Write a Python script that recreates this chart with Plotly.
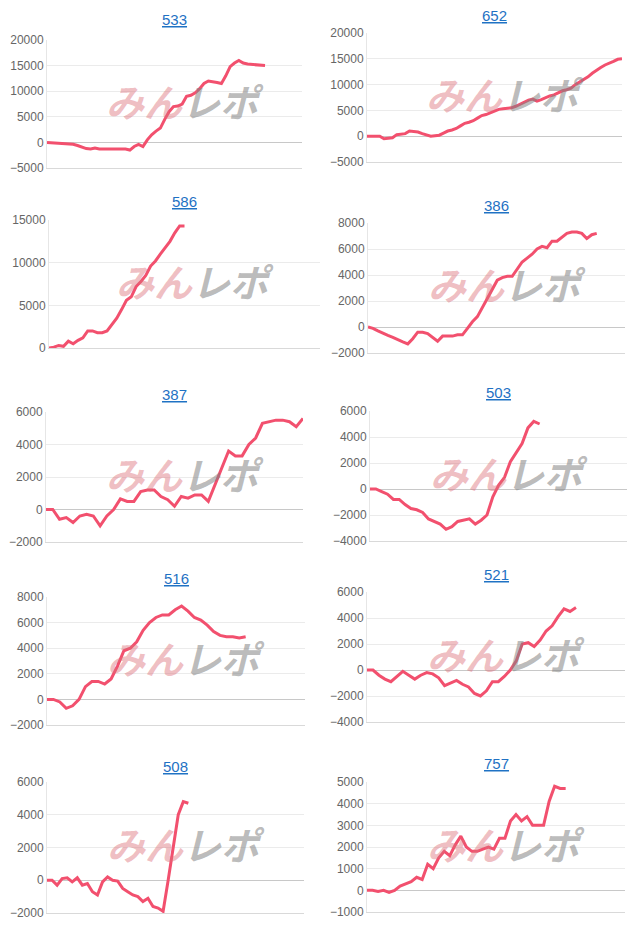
import plotly.graph_objects as go

W, H = 640, 931
OFF = 8  # page body margin shifts the figure

# machine numbers and value series
titles = ["533", "652", "586", "386", "387", "503", "516", "521", "508", "757"]

v533 = [0, -50, -150, -250, -300, -300, -350, -600, -900, -1200, -1300, -1100, -1300, -1300, -1300,
        -1300, -1300, -1300, -1300, -1500, -800, -400, -800, 500, 1500, 2200, 2800, 4500, 6000, 7000,
        7100, 7500, 9000, 9200, 9700, 10500, 11500, 12000, 11900, 11700, 11500, 13000, 14800, 15500,
        16000, 15500, 15300, 15200, 15200, 15100, 15000]
v652 = [0, 0, 0, 0, -500, -400, -300, 300, 400, 500, 1000, 900, 800, 500, 200, 0, 100, 200, 600, 1000,
        1200, 1500, 2000, 2500, 2700, 3000, 3500, 4000, 4200, 4500, 4800, 5200, 5300, 5400, 5500, 5800,
        6200, 6600, 7000, 7200, 6800, 7100, 7500, 7800, 8000, 8400, 8800, 9000, 9300, 10000, 10500,
        11000, 11500, 12200, 12800, 13300, 13800, 14100, 14500, 14900, 15000]
v586 = [0, 100, 300, 200, 800, 500, 900, 1200, 2000, 2000, 1800, 1800, 2000, 2800, 3500, 4500, 5600,
        6000, 7200, 7800, 8500, 9600, 10200, 11000, 11800, 12500, 13500, 14300, 14300]
v386 = [0, -100, -300, -500, -650, -800, -1000, -1150, -1300, -900, -400, -400, -500, -800, -1100,
        -700, -700, -700, -600, -600, -100, 400, 800, 1500, 2300, 3000, 3600, 3800, 3900, 3900, 4500,
        5000, 5300, 5600, 6000, 6200, 6100, 6600, 6600, 6900, 7200, 7300, 7300, 7200, 6800, 7100, 7200]
v387 = [0, 0, -600, -500, -800, -400, -300, -400, -1000, -400, 0, 650, 500, 500, 1100, 1200, 1200,
        800, 600, 200, 800, 700, 900, 900, 500, 1500, 2600, 3600, 3300, 3300, 4000, 4400, 5300, 5400,
        5500, 5500, 5400, 5100, 5600]
v503 = [0, 0, -200, -400, -800, -800, -1200, -1500, -1600, -1800, -2300, -2500, -2700, -3100, -2900,
        -2500, -2400, -2300, -2700, -2400, -2000, -600, 300, 900, 2100, 2800, 3500, 4700, 5200, 5000]
v516 = [0, 0, -200, -700, -500, 0, 1000, 1400, 1400, 1200, 1600, 2600, 3800, 4000, 4500, 5400, 6000,
        6400, 6600, 6600, 7000, 7300, 6900, 6400, 6200, 5800, 5300, 5000, 4900, 4900, 4800, 4900]
v521 = [0, 0, -400, -700, -900, -500, -100, -400, -700, -400, -200, -300, -600, -1200, -1000, -800,
        -1100, -1300, -1800, -2000, -1600, -900, -900, -500, 0, 700, 2000, 2100, 1800, 2300, 3000,
        3400, 4100, 4700, 4500, 4800]
v508 = [0, 0, -300, 100, 150, -100, 150, -300, -200, -700, -900, -100, 200, 0, -50, -500, -700, -900,
        -1000, -1300, -1100, -1600, -1700, -1900, 0, 2000, 4000, 4800, 4700]
v757 = [0, 0, -50, 0, -100, 0, 200, 300, 400, 600, 500, 1200, 1000, 1500, 1800, 1600, 2100, 2500,
        2000, 1800, 1800, 1900, 2000, 1900, 2400, 2400, 3200, 3500, 3200, 3400, 3000, 3000, 3000, 4100,
        4800, 4700, 4700]
series = [v533, v652, v586, v386, v387, v503, v516, v521, v508, v757]

y_ranges = [(-5000, 20000), (-5000, 20000), (0, 15000), (-2000, 8000), (-2000, 6000),
            (-4000, 6000), (-2000, 8000), (-4000, 6000), (-2000, 6000), (-1000, 5000)]
y_steps = [5000, 5000, 5000, 2000, 2000, 2000, 2000, 2000, 2000, 1000]

# layout: plot box in pixels (left, right, top, bottom), title y, fraction of width the line covers
boxes = [(47, 302, 40, 168), (367, 622, 33, 162),
         (49, 320, 220, 348), (368, 625, 223, 353),
         (46, 303, 412, 542), (370, 627, 411, 541),
         (47, 305, 597, 725), (367, 625, 592, 722),
         (47, 304, 782, 913), (367, 625, 782, 912)]
title_y = [20, 15, 201, 205, 394, 392, 578, 574, 766, 763]
fracs = [0.855, 1.0, 0.5, 0.89, 1.0, 0.66, 0.77, 0.81, 0.55, 0.77]


def px(x):
    return (x - OFF) / W


def py(y):
    return 1 - (y - OFF) / H


LINE = "#f2506e"
fig = go.Figure()
annotations = []
for i, (name, vals) in enumerate(zip(titles, series)):
    k = "" if i == 0 else str(i + 1)
    l, r, t, b = boxes[i]
    fig.add_trace(go.Scatter(x=list(range(len(vals))), y=vals, mode="lines",
                             line=dict(color=LINE, width=3), xaxis="x" + k, yaxis="y" + k,
                             showlegend=False, hoverinfo="y"))
    lo, hi = y_ranges[i]
    fig.layout["xaxis" + k] = dict(domain=[px(l), min(px(r), 1)], range=[0, (len(vals) - 1) / fracs[i]],
                                   showticklabels=False, showgrid=False, zeroline=False,
                                   showline=True, linecolor="#d9d9d9", anchor="y" + k, fixedrange=True)
    fig.layout["yaxis" + k] = dict(domain=[py(b), py(t)], range=[lo, hi],
                                   tickvals=list(range(lo, hi + 1, y_steps[i])), tickformat="d",
                                   gridcolor="#ebebeb", zeroline=True, zerolinecolor="#c8c8c8",
                                   zerolinewidth=1, showline=True, linecolor="#e6e6e6",
                                   tickfont=dict(color="#666", size=12), anchor="x" + k, fixedrange=True)
    annotations.append(dict(text="<u>%s</u>" % name, x=px((l + r) / 2), y=py(title_y[i]),
                            xanchor="center", yanchor="middle",
                            xref="paper", yref="paper", showarrow=False,
                            font=dict(size=15, color="#1f72c4")))
    annotations.append(dict(text="<b><i><span style='color:rgba(220,110,120,0.45)'>みん</span>"
                                 "<span style='color:rgba(130,130,130,0.55)'>レポ</span></i></b>",
                            x=px((l + r) / 2 + 10), y=py((t + b) / 2 - 4),
                            xanchor="center", yanchor="middle",
                            xref="paper", yref="paper", showarrow=False,
                            font=dict(size=38, family="Noto Sans CJK JP")))

fig.update_layout(width=W, height=H, margin=dict(l=0, r=0, t=0, b=0, autoexpand=False),
                  paper_bgcolor="white", plot_bgcolor="white",
                  font=dict(family="Liberation Sans, Arial, sans-serif"),
                  annotations=annotations)
fig.write_html("out.html")
